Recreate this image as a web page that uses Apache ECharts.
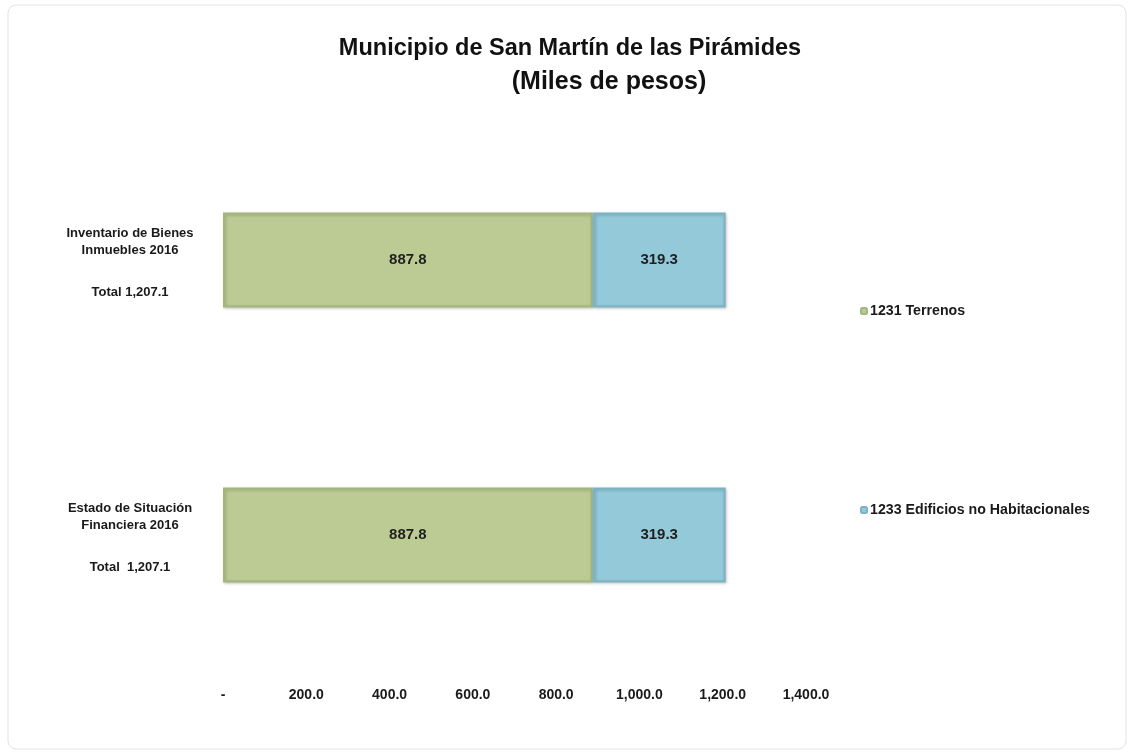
<!DOCTYPE html>
<html>
<head>
<meta charset="utf-8">
<script src="https://cdn.jsdelivr.net/npm/echarts@6/dist/echarts.min.js"></script>
<style>
html,body{margin:0;padding:0;background:#fff;}
#main{width:1133px;height:755px;}
</style>
</head>
<body>
<div id="main"></div>
<script>
var categories = ['Estado de Situación\nFinanciera 2016', 'Inventario de Bienes\nInmuebles 2016'];
var totalLabels = ['Total  1,207.1', 'Total 1,207.1'];
var terrenos = [887.8, 887.8];
var edificios = [319.3, 319.3];
var seriesNames = ['1231 Terrenos', '1233 Edificios no Habitacionales'];
var xTicks = [0, 200, 400, 600, 800, 1000, 1200, 1400];
var titleLines = ['Municipio de San Martín de las Pirámides', '(Miles de pesos)'];

var FONT = '"Liberation Sans", Arial, sans-serif';
var chart = echarts.init(document.getElementById('main'));
function fmt(v){
  if (v === 0) return '-';
  return v.toFixed(1).replace(/\B(?=(\d{3})+(?!\d))/g, ',');
}
var labelStyle = {show:true, position:'inside', color:'#1f1f1f', fontFamily:FONT, fontWeight:'bold', fontSize:15,
  formatter:function(p){ return p.value.toFixed(1); }};
chart.setOption({
  backgroundColor:'#fff',
  animation:false,
  graphic:[{type:'rect', shape:{x:8, y:5, width:1118, height:744, r:8}, style:{fill:'none', stroke:'#e2e2e2', lineWidth:1}}],
  title:[
    {text:titleLines[0], left:565, top:32, textAlign:'center',
      textStyle:{fontFamily:FONT, fontWeight:'bold', fontSize:23.5, color:'#111'}},
    {text:titleLines[1], left:604, top:65, textAlign:'center',
      textStyle:{fontFamily:FONT, fontWeight:'bold', fontSize:25, color:'#111'}}
  ],
  legend:[
    {data:[seriesNames[0]], left:855, top:299, orient:'vertical', itemWidth:6, itemHeight:6, itemGap:4,
      textStyle:{fontFamily:FONT, fontWeight:'bold', fontSize:14.2, color:'#1a1a1a', padding:[0,0,0,-2]}},
    {data:[seriesNames[1]], left:855, top:498, orient:'vertical', itemWidth:6, itemHeight:6, itemGap:4,
      textStyle:{fontFamily:FONT, fontWeight:'bold', fontSize:14.2, color:'#1a1a1a', padding:[0,0,0,-2]}}
  ],
  grid:{left:223, top:122.5, width:583, height:550, containLabel:false},
  xAxis:{type:'value', min:xTicks[0], max:xTicks[xTicks.length-1], interval:200,
    axisLine:{show:false}, axisTick:{show:false}, splitLine:{show:false},
    axisLabel:{margin:16, color:'#1a1a1a', fontFamily:FONT, fontWeight:'bold', fontSize:14, formatter:fmt}},
  yAxis:{type:'category', data:categories,
    axisLine:{show:false}, axisTick:{show:false}, splitLine:{show:false},
    axisLabel:{margin:93, align:'center', padding:[6,0,0,0], color:'#1a1a1a', fontFamily:FONT, fontWeight:'bold', fontSize:13, lineHeight:17,
      formatter:function(v, i){
        var lines = v.split('\n').map(function(l){ return '{a|' + l + '}'; });
        return lines.join('\n') + '\n{s| }\n{a|' + totalLabels[i] + '}';
      },
      rich:{
        a:{fontFamily:FONT, fontWeight:'bold', fontSize:13, lineHeight:17, color:'#1a1a1a', align:'center'},
        s:{fontSize:10, lineHeight:25}
      }}},
  series:[
    {name:seriesNames[0], type:'bar', stack:'t', data:terrenos, barWidth:95,
      itemStyle:{color:'#bccb94', borderColor:'#a3b67c', borderWidth:2, shadowColor:'rgba(0,0,0,0.2)', shadowBlur:3, shadowOffsetX:1, shadowOffsetY:1},
      label:labelStyle},
    {name:seriesNames[1], type:'bar', stack:'t', data:edificios, barWidth:95,
      itemStyle:{color:'#93c9d9', borderColor:'#7cb3c4', borderWidth:2, shadowColor:'rgba(0,0,0,0.2)', shadowBlur:3, shadowOffsetX:1, shadowOffsetY:1},
      label:labelStyle}
  ]
});
</script>
</body>
</html>
